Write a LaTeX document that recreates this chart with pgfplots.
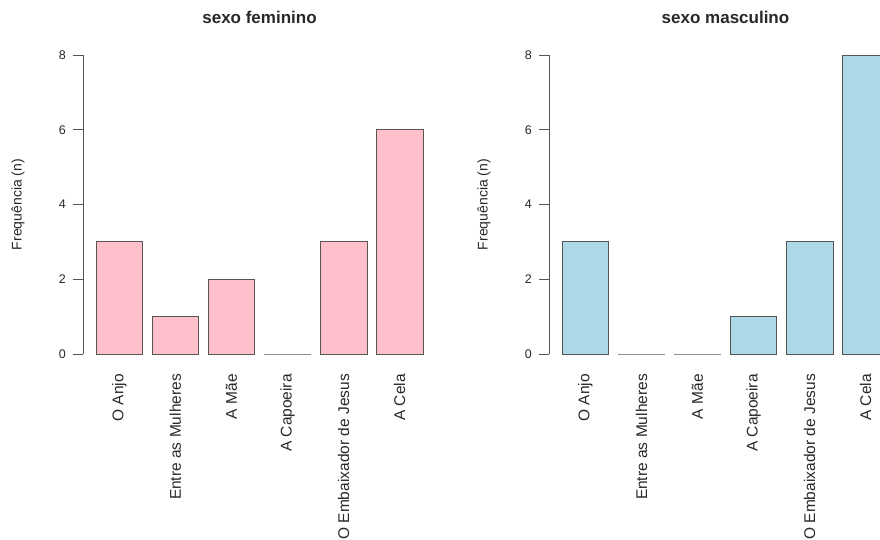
\documentclass[border=0pt]{standalone}
\usepackage{pgfplots}
\pgfplotsset{compat=1.18}
\usepackage{fontspec}
\setmainfont{Liberation Sans}
\definecolor{rpink}{RGB}{255,192,203}
\definecolor{rblue}{RGB}{173,216,230}
\definecolor{edge}{RGB}{85,85,85}
\definecolor{txt}{RGB}{40,40,40}
\pgfplotsset{
  rbar/.style={
    scale only axis, width=353pt, height=299pt,
    xmin=-0.08, xmax=7.48, ymin=0, ymax=8,
    axis y line*=left, axis x line*=bottom,
    x axis line style={draw=none},
    y axis line style={edge, line width=0.8pt},
    ytick={0,2,4,6,8},
    ytick style={edge, line width=0.8pt},
    xtick style={draw=none},
    tick align=outside, major tick length=10pt,
    xtick={0.7,1.9,3.1,4.3,5.5,6.7},
    xticklabels={O Anjo, Entre as Mulheres, A Mãe, A Capoeira, O Embaixador de Jesus, A Cela},
    xticklabel style={rotate=90, anchor=east, inner sep=0pt, font=\fontsize{15.5}{17}\selectfont, text=txt},
    xticklabel shift=10pt,
    yticklabel style={inner sep=0pt, font=\fontsize{12.5}{14}\selectfont, text=txt},
    yticklabel shift=7pt,
    /pgf/number format/assume math mode=true,
    ylabel={Frequência (n)},
    ylabel style={at={(axis description cs:-0.184,0.5)}, rotate=0, anchor=center, font=\fontsize{14}{16}\selectfont, text=txt},
    title style={at={(axis description cs:0.5,1.104)}, anchor=center, font=\fontsize{17}{19}\selectfont\bfseries, text=txt},
    ybar, bar width=1, clip=false,
  }
}
\begin{document}
\begin{tikzpicture}
\path[use as bounding box] (0,0) rectangle (880pt,539pt);
\clip (0,0) rectangle (880pt,539pt);
\begin{axis}[rbar, at={(83pt,185pt)}, anchor=south west, title={sexo feminino}]
\addplot[fill=rpink, draw=edge, line width=0.8pt] coordinates {(0.7,3) (1.9,1) (3.1,2) (4.3,0) (5.5,3) (6.7,6)};
\end{axis}
\begin{axis}[rbar, at={(549pt,185pt)}, anchor=south west, title={sexo masculino}]
\addplot[fill=rblue, draw=edge, line width=0.8pt] coordinates {(0.7,3) (1.9,0) (3.1,0) (4.3,1) (5.5,3) (6.7,8)};
\end{axis}
\end{tikzpicture}
\end{document}
